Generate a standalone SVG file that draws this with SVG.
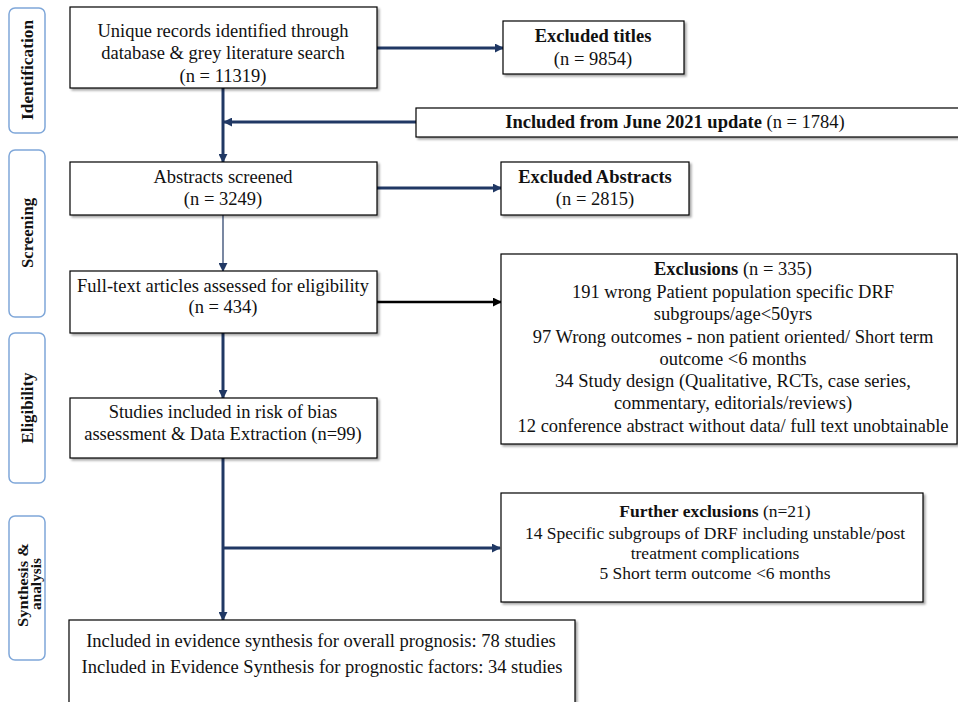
<svg xmlns="http://www.w3.org/2000/svg" width="958" height="702" viewBox="0 0 958 702">
<defs>
<filter id="sh" x="-5%" y="-5%" width="115%" height="130%">
<feDropShadow dx="2" dy="2" stdDeviation="1.2" flood-color="#000" flood-opacity="0.35"/>
</filter>
<marker id="an" viewBox="0 0 10 10" refX="9" refY="5" markerWidth="9" markerHeight="9" markerUnits="userSpaceOnUse" orient="auto">
<path d="M0,0 L10,5 L0,10 z" fill="#203864"/>
</marker>
<marker id="ab" viewBox="0 0 10 10" refX="9" refY="5" markerWidth="9" markerHeight="9" markerUnits="userSpaceOnUse" orient="auto">
<path d="M0,0 L10,5 L0,10 z" fill="#000"/>
</marker>
</defs>
<style>
.box{fill:#fff;stroke:#000;stroke-width:1.2;filter:url(#sh)}
.side{fill:#fff;stroke:#7fa7d9;stroke-width:1.5}
.t{font-family:"Liberation Serif","Times New Roman",serif;font-size:18.5px;fill:#111;text-anchor:middle}
.s{font-size:17.5px}
.b{font-weight:bold}
.lab{font-family:"Liberation Serif","Times New Roman",serif;font-size:16px;font-weight:bold;fill:#111;text-anchor:middle}
.lab2{font-size:14px}
.c{fill:none;stroke:#203864;stroke-width:3;marker-end:url(#an)}
.thin{stroke-width:1.2}
.blk{stroke:#000;stroke-width:2.5;marker-end:url(#ab)}
</style>

<g id="stage-identification">
<rect class="side" x="9" y="8" width="36" height="125" rx="6"/>
<text class="lab" transform="translate(33,70) rotate(-90)" textLength="100" lengthAdjust="spacingAndGlyphs">Identification</text>
</g>
<g id="stage-screening">
<rect class="side" x="9" y="150" width="36" height="167" rx="6"/>
<text class="lab" transform="translate(33,233) rotate(-90)" textLength="70" lengthAdjust="spacingAndGlyphs">Screening</text>
</g>
<g id="stage-eligibility">
<rect class="side" x="9" y="333" width="36" height="150" rx="6"/>
<text class="lab" transform="translate(33,408) rotate(-90)" textLength="71" lengthAdjust="spacingAndGlyphs">Eligibility</text>
</g>
<g id="stage-synthesis">
<rect class="side" x="9" y="516" width="36" height="144" rx="6"/>
<text class="lab lab2" transform="translate(28,585) rotate(-90)" textLength="84" lengthAdjust="spacingAndGlyphs">Synthesis &amp;</text>
<text class="lab lab2" transform="translate(41,584) rotate(-90)" textLength="52" lengthAdjust="spacingAndGlyphs">analysis</text>
</g>

<g id="connectors">
<line class="c" x1="377" y1="48" x2="503" y2="48"/>
<line class="c" x1="223" y1="88" x2="223" y2="162"/>
<line class="c" x1="416" y1="122" x2="224" y2="122"/>
<line class="c" x1="377" y1="188" x2="501" y2="188"/>
<line class="c thin" x1="223" y1="215" x2="223" y2="271"/>
<line class="c blk" x1="377" y1="302" x2="501" y2="302"/>
<line class="c" x1="223" y1="333" x2="223" y2="398"/>
<line class="c" x1="223" y1="458" x2="223" y2="620"/>
<line class="c" x1="223" y1="548" x2="500" y2="548"/>
</g>

<g id="records">
<rect class="box" x="70" y="7" width="307" height="81"/>
<text class="t" x="223" y="37">Unique records identified through</text>
<text class="t" x="223" y="59">database &amp; grey literature search</text>
<text class="t" x="223" y="82">(n = 11319)</text>
</g>
<g id="excluded-titles">
<rect class="box" x="503" y="21" width="181" height="53"/>
<text class="t b" x="593" y="42">Excluded titles</text>
<text class="t" x="593" y="65">(n = 9854)</text>
</g>
<g id="june-update">
<rect class="box" x="416" y="108" width="560" height="29"/>
<text class="t" x="675" y="128"><tspan class="b">Included from June 2021 update</tspan> (n = 1784)</text>
</g>
<g id="abstracts">
<rect class="box" x="70" y="162" width="307" height="53"/>
<text class="t" x="223" y="183">Abstracts screened</text>
<text class="t" x="223" y="205">(n = 3249)</text>
</g>
<g id="excluded-abstracts">
<rect class="box" x="501" y="162" width="188" height="53"/>
<text class="t b" x="595" y="183">Excluded Abstracts</text>
<text class="t" x="595" y="205">(n = 2815)</text>
</g>
<g id="fulltext">
<rect class="box" x="70" y="271" width="307" height="62"/>
<text class="t" x="223" y="292">Full-text articles assessed for eligibility</text>
<text class="t" x="223" y="313">(n = 434)</text>
</g>
<g id="exclusions">
<rect class="box" x="501" y="254" width="456" height="190"/>
<text class="t" x="733" y="275"><tspan class="b">Exclusions</tspan> (n = 335)</text>
<text class="t" x="733" y="298">191 wrong Patient population specific DRF</text>
<text class="t" x="733" y="320">subgroups/age&lt;50yrs</text>
<text class="t" x="733" y="343">97 Wrong outcomes - non patient oriented/ Short term</text>
<text class="t" x="733" y="365">outcome &lt;6 months</text>
<text class="t" x="733" y="387">34 Study design (Qualitative,  RCTs, case series,</text>
<text class="t" x="733" y="409">commentary, editorials/reviews)</text>
<text class="t" x="733" y="432">12 conference abstract without data/ full text unobtainable</text>
</g>
<g id="studies">
<rect class="box" x="70" y="398" width="307" height="60"/>
<text class="t" x="223" y="418">Studies included in risk of bias</text>
<text class="t" x="223" y="440">assessment &amp; Data Extraction (n=99)</text>
</g>
<g id="further-exclusions">
<rect class="box" x="501" y="493" width="422" height="109"/>
<text class="t s" x="715" y="517"><tspan class="b">Further exclusions</tspan> (n=21)</text>
<text class="t s" x="715" y="539">14 Specific subgroups of DRF including unstable/post</text>
<text class="t s" x="715" y="559">treatment complications</text>
<text class="t s" x="715" y="579">5 Short term outcome &lt;6 months</text>
</g>
<g id="included">
<rect class="box" x="69" y="620" width="506" height="100"/>
<text class="t" x="321" y="647">Included in evidence synthesis for overall prognosis: 78 studies</text>
<text class="t" x="322" y="673">Included in Evidence Synthesis for prognostic factors: 34 studies</text>
</g>
</svg>
